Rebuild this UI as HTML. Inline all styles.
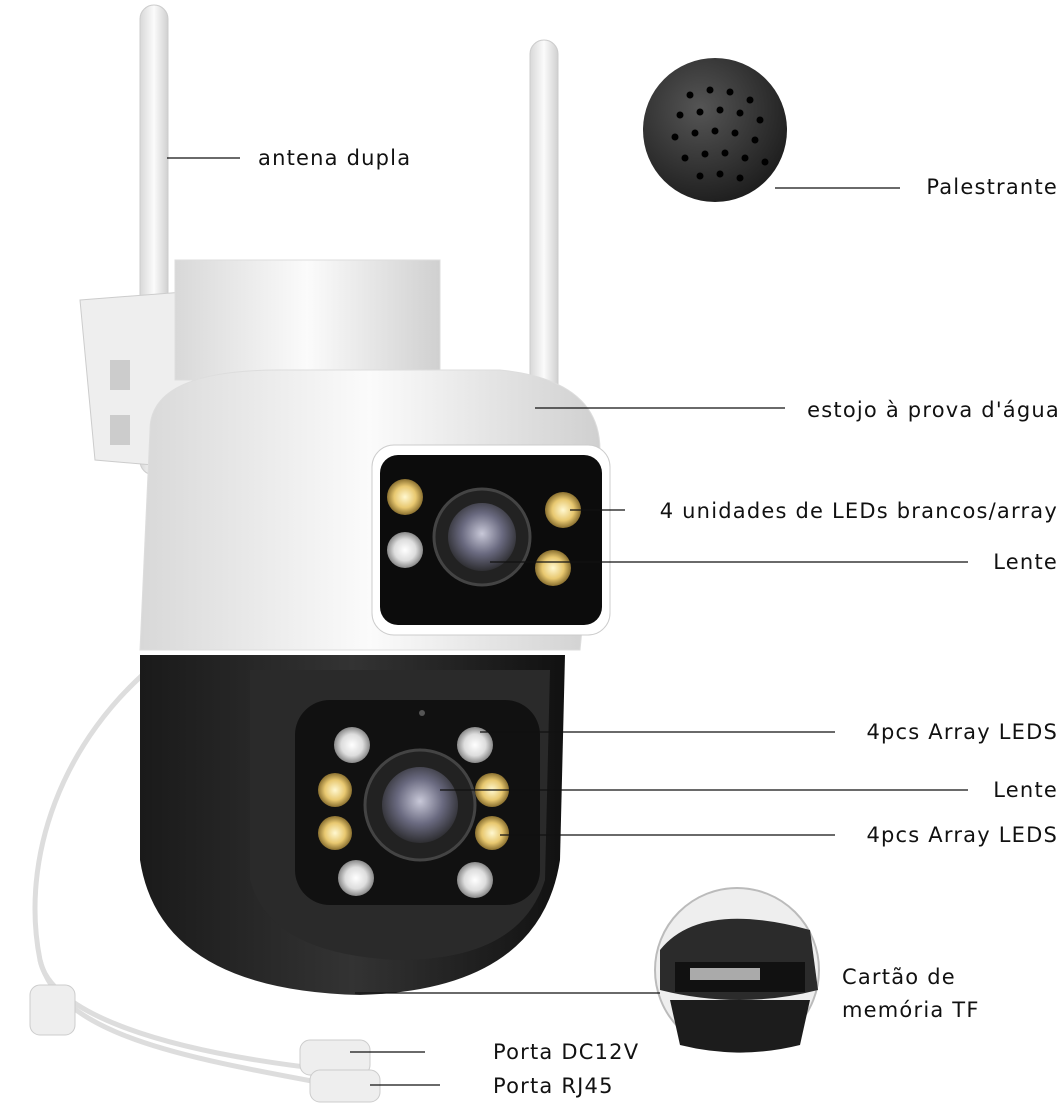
<!DOCTYPE html>
<html><head><meta charset="utf-8"><style>
html,body{margin:0;padding:0;background:#fff;}
svg{display:block}
text{font-family:"DejaVu Sans","Liberation Sans",sans-serif;font-size:21px;letter-spacing:1.2px;fill:#111;}
.r{text-anchor:end}
</style></head><body>
<svg width="1063" height="1110" viewBox="0 0 1063 1110" xmlns="http://www.w3.org/2000/svg">
<defs>
<radialGradient id="spk" cx="40%" cy="35%" r="70%"><stop offset="0" stop-color="#555"/><stop offset="1" stop-color="#1c1c1c"/></radialGradient>
<radialGradient id="lens" cx="50%" cy="45%" r="60%"><stop offset="0" stop-color="#c8c8d8"/><stop offset="0.5" stop-color="#6a6a80"/><stop offset="1" stop-color="#222"/></radialGradient>
<radialGradient id="ledy" cx="50%" cy="50%" r="50%"><stop offset="0" stop-color="#fff8d0"/><stop offset="0.6" stop-color="#e8c870"/><stop offset="1" stop-color="#8a7030"/></radialGradient>
<radialGradient id="ledw" cx="50%" cy="50%" r="50%"><stop offset="0" stop-color="#fff"/><stop offset="0.6" stop-color="#ddd"/><stop offset="1" stop-color="#888"/></radialGradient>
<linearGradient id="wh" x1="0" x2="1"><stop offset="0" stop-color="#d8d8d8"/><stop offset="0.5" stop-color="#fbfbfb"/><stop offset="1" stop-color="#d0d0d0"/></linearGradient>
<linearGradient id="bk" x1="0" x2="1"><stop offset="0" stop-color="#1a1a1a"/><stop offset="0.5" stop-color="#333"/><stop offset="1" stop-color="#111"/></linearGradient>
</defs>
<path d="M160 660 C60 740 20 860 40 960 C50 1010 150 1050 330 1070" stroke="#ddd" stroke-width="5" fill="none"/>
<path d="M40 960 C60 1040 200 1060 360 1090" stroke="#ddd" stroke-width="5" fill="none"/>
<rect x="30" y="985" width="45" height="50" rx="10" fill="#eee" stroke="#ccc"/>
<rect x="300" y="1040" width="70" height="35" rx="10" fill="#eee" stroke="#ccc"/>
<rect x="310" y="1070" width="70" height="32" rx="10" fill="#eee" stroke="#ccc"/>
<rect x="140" y="5" width="28" height="470" rx="14" fill="url(#wh)" stroke="#ccc"/>
<rect x="530" y="40" width="28" height="360" rx="14" fill="url(#wh)" stroke="#ccc"/>
<path d="M80 300 L210 290 L210 470 L95 460 Z" fill="#eee" stroke="#ccc"/>
<rect x="110" y="360" width="20" height="30" fill="#ccc"/><rect x="110" y="415" width="20" height="30" fill="#ccc"/>
<rect x="175" y="260" width="265" height="120" fill="url(#wh)" stroke="#ddd"/>
<path d="M150 430 Q150 370 280 370 L500 370 Q600 380 600 450 L580 650 L140 650 Z" fill="url(#wh)" stroke="#ddd"/>
<path d="M140 655 L565 655 L560 860 Q540 990 360 995 Q160 990 140 860 Z" fill="url(#bk)"/>
<path d="M250 670 L550 670 L545 880 Q520 960 400 960 Q270 955 250 880 Z" fill="#2a2a2a"/>
<rect x="295" y="700" width="245" height="205" rx="35" fill="#111"/>
<rect x="372" y="445" width="238" height="190" rx="22" fill="#fff" stroke="#ccc"/>
<rect x="380" y="455" width="222" height="170" rx="18" fill="#0c0c0c"/>
<circle cx="405" cy="497" r="18" fill="url(#ledy)"/><circle cx="405" cy="550" r="18" fill="url(#ledw)"/>
<circle cx="563" cy="510" r="18" fill="url(#ledy)"/><circle cx="553" cy="568" r="18" fill="url(#ledy)"/>
<circle cx="482" cy="537" r="48" fill="#222" stroke="#444" stroke-width="3"/>
<circle cx="482" cy="537" r="34" fill="url(#lens)"/>
<circle cx="352" cy="745" r="18" fill="url(#ledw)"/><circle cx="335" cy="790" r="17" fill="url(#ledy)"/>
<circle cx="335" cy="833" r="17" fill="url(#ledy)"/><circle cx="356" cy="878" r="18" fill="url(#ledw)"/>
<circle cx="475" cy="745" r="18" fill="url(#ledw)"/><circle cx="492" cy="790" r="17" fill="url(#ledy)"/>
<circle cx="492" cy="833" r="17" fill="url(#ledy)"/><circle cx="475" cy="880" r="18" fill="url(#ledw)"/>
<circle cx="420" cy="805" r="55" fill="#222" stroke="#444" stroke-width="3"/>
<circle cx="420" cy="805" r="38" fill="url(#lens)"/>
<circle cx="422" cy="713" r="3" fill="#555"/>
<circle cx="715" cy="130" r="72" fill="url(#spk)"/>
<g fill="#000">
<circle cx="690" cy="95" r="3.5"/><circle cx="710" cy="90" r="3.5"/><circle cx="730" cy="92" r="3.5"/><circle cx="750" cy="100" r="3.5"/>
<circle cx="680" cy="115" r="3.5"/><circle cx="700" cy="112" r="3.5"/><circle cx="720" cy="110" r="3.5"/><circle cx="740" cy="113" r="3.5"/><circle cx="760" cy="120" r="3.5"/>
<circle cx="675" cy="137" r="3.5"/><circle cx="695" cy="133" r="3.5"/><circle cx="715" cy="131" r="3.5"/><circle cx="735" cy="133" r="3.5"/><circle cx="755" cy="140" r="3.5"/>
<circle cx="685" cy="158" r="3.5"/><circle cx="705" cy="154" r="3.5"/><circle cx="725" cy="153" r="3.5"/><circle cx="745" cy="158" r="3.5"/><circle cx="765" cy="162" r="3.5"/>
<circle cx="700" cy="176" r="3.5"/><circle cx="720" cy="174" r="3.5"/><circle cx="740" cy="178" r="3.5"/>
</g>
<circle cx="737" cy="970" r="82" fill="#eee" stroke="#bbb" stroke-width="2"/>
<path d="M660 950 Q700 900 810 930 L818 990 Q740 1010 660 990 Z" fill="#2b2b2b"/>
<rect x="675" y="962" width="130" height="30" fill="#111"/>
<rect x="690" y="968" width="70" height="12" fill="#aaa"/>
<path d="M670 1000 L810 1000 L800 1045 Q740 1060 680 1045 Z" fill="#1c1c1c"/>
<g stroke="#111" stroke-width="1.3">
<line x1="167" y1="158" x2="240" y2="158"/>
<line x1="775" y1="188" x2="900" y2="188"/>
<line x1="535" y1="408" x2="785" y2="408"/>
<line x1="570" y1="510" x2="625" y2="510"/>
<line x1="490" y1="562" x2="968" y2="562"/>
<line x1="480" y1="732" x2="835" y2="732"/>
<line x1="440" y1="790" x2="968" y2="790"/>
<line x1="500" y1="835" x2="835" y2="835"/>
<line x1="355" y1="993" x2="660" y2="993"/>
<line x1="350" y1="1052" x2="425" y2="1052"/>
<line x1="370" y1="1085" x2="440" y2="1085"/>
</g>
<text x="258" y="165">antena dupla</text>
<text class="r" x="1058" y="194">Palestrante</text>
<text class="r" x="1060" y="417">estojo à prova d'água</text>
<text class="r" x="1058" y="518">4 unidades de LEDs brancos/array</text>
<text class="r" x="1058" y="569">Lente</text>
<text class="r" x="1058" y="739">4pcs Array LEDS</text>
<text class="r" x="1058" y="797">Lente</text>
<text class="r" x="1058" y="842">4pcs Array LEDS</text>
<text x="842" y="984">Cartão de</text>
<text x="842" y="1017">memória TF</text>
<text x="493" y="1059">Porta DC12V</text>
<text x="493" y="1093">Porta RJ45</text>
</svg>
</body></html>
